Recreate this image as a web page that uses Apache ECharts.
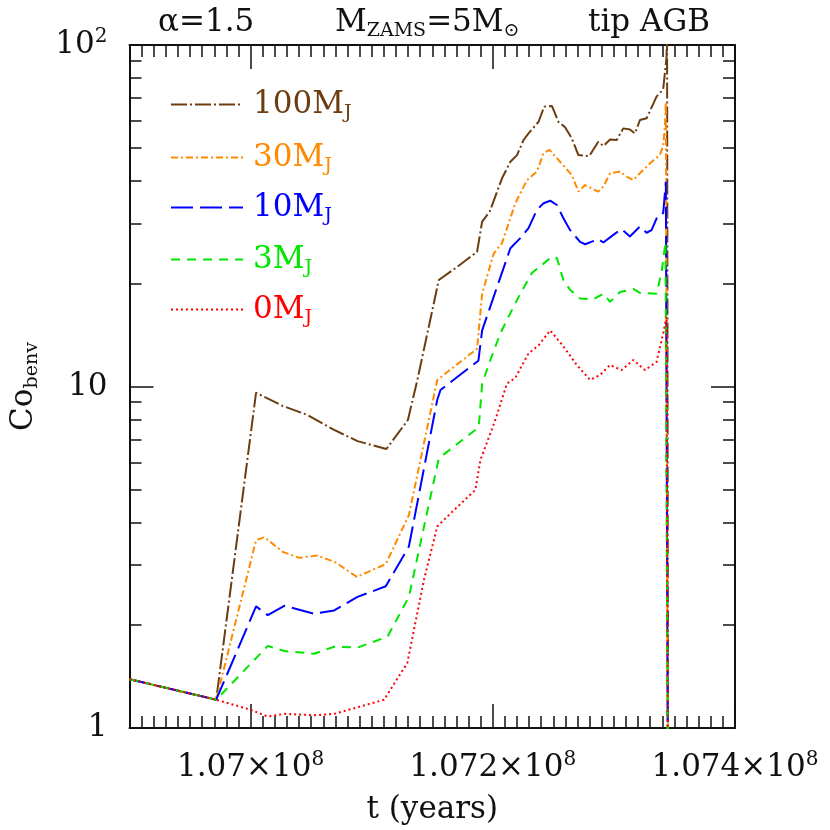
<!DOCTYPE html>
<html>
<head>
<meta charset="utf-8">
<script src="https://cdn.jsdelivr.net/npm/echarts@6/dist/echarts.min.js"></script>
<style>
  html, body { margin: 0; padding: 0; background: #fff; }
  #chart { width: 830px; height: 830px; }
</style>
</head>
<body>
<div id="chart"></div>
<script>
// time in kyr after t0, Co_benv values
const t0 = 106900000
const kyr = 1000

const names = ['100MJ', '30MJ', '10MJ', '3MJ', '0MJ']
const masses = ['100', '30', '10', '3', '0']
const colors = ['#6b3d10', '#ff8a00', '#0000ff', '#00e600', '#ff0000']
const dashes = [[16, 3, 2, 3], [7, 3, 2, 3], [22, 7], [9, 7], [2, 3]]

const tBrown = [0, 71.6, 104.5, 126.5, 147.1, 169.0, 188.3, 212.1, 229.9, 237.7, 255.4, 270.6, 287.0, 291.2, 297.4, 307.6, 314.5, 320.0, 325.4, 329.5, 337.8, 342.4, 348.8, 354.2, 359.7, 365.2, 370.7, 379.7, 387.1, 391.3, 396.8, 402.3, 407.7, 413.2, 417.4, 421.5, 427.0, 435.2, 440.7, 443.4, 443.9, 444.9]
const coBrown = [1.39, 1.21, 9.59, 8.77, 8.25, 7.46, 6.92, 6.56, 7.98, 10.45, 20.5, 22.4, 24.8, 30.4, 32.5, 40.7, 45.5, 47.6, 52.7, 55.1, 59.6, 66.0, 66.3, 59.6, 57.4, 53.3, 47.6, 47.3, 52.1, 50.6, 52.9, 52.7, 57.0, 56.6, 55.1, 60.3, 61.0, 70.6, 74.2, 91.4, 105, 0.3]

const tOrange = [0, 71.6, 104.5, 111.4, 126.5, 140.2, 155.3, 170.4, 187.7, 211.6, 230.7, 254.1, 287.0, 291.2, 300.7, 307.6, 318.6, 328.2, 336.4, 341.9, 346.8, 355.6, 365.2, 370.7, 376.2, 387.1, 391.3, 396.8, 405.0, 410.5, 416.0, 421.5, 429.7, 437.9, 440.7, 442.1, 442.9, 444.9]
const coOrange = [1.39, 1.21, 3.55, 3.62, 3.28, 3.15, 3.20, 3.05, 2.77, 3.02, 4.20, 10.45, 12.9, 18.7, 24.5, 26.3, 34.4, 40.2, 42.6, 48.2, 49.3, 45.5, 41.6, 37.2, 38.9, 37.2, 38.5, 42.1, 42.6, 41.2, 40.2, 42.1, 45.0, 47.6, 50.6, 57.7, 68.2, 0.3]

const tBlue = [0, 71.6, 104.5, 114.2, 127.8, 152.5, 169.0, 188.3, 211.6, 230.7, 254.1, 256.8, 288.1, 291.2, 300.7, 314.5, 322.7, 329.5, 336.4, 341.9, 347.4, 352.9, 358.3, 363.8, 372.1, 376.2, 387.1, 391.3, 399.5, 406.4, 413.2, 421.5, 427.0, 431.1, 436.5, 440.7, 442.9, 444.9]
const coBlue = [1.39, 1.21, 2.27, 2.14, 2.28, 2.16, 2.21, 2.42, 2.60, 3.40, 9.13, 9.77, 11.9, 14.6, 18.3, 25.4, 27.2, 29.1, 32.9, 34.4, 35.0, 34.0, 31.1, 28.7, 26.5, 26.1, 27.0, 26.4, 27.8, 28.9, 27.5, 29.4, 28.2, 28.7, 31.8, 32.2, 39.8, 0.3]

const tGreen = [0, 71.6, 114.2, 127.8, 152.5, 169.0, 188.3, 213.0, 230.7, 255.4, 288.4, 291.2, 298.0, 306.2, 314.5, 322.7, 332.3, 341.9, 348.8, 352.9, 358.3, 363.8, 372.1, 383.0, 391.3, 396.8, 405.0, 416.0, 421.5, 435.2, 439.3, 442.6, 444.9]
const coGreen = [1.39, 1.21, 1.74, 1.68, 1.65, 1.73, 1.72, 1.85, 2.42, 6.16, 7.6, 10.2, 11.96, 14.3, 16.4, 18.7, 21.5, 22.9, 24.0, 23.8, 20.5, 19.2, 18.1, 18.0, 18.7, 17.7, 18.9, 19.3, 18.8, 18.7, 21.5, 26.5, 0.3]

const tRed = [0, 71.6, 100.4, 114.2, 127.8, 152.5, 169.0, 188.3, 210.2, 229.4, 243.1, 254.1, 265.1, 285.6, 289.8, 302.1, 311.7, 318.6, 329.5, 337.8, 347.4, 358.3, 369.4, 380.3, 388.5, 396.8, 406.4, 416.0, 425.6, 435.2, 440.7, 443.4, 444.9]
const coRed = [1.39, 1.21, 1.13, 1.08, 1.10, 1.09, 1.10, 1.15, 1.21, 1.55, 2.71, 3.89, 4.25, 4.98, 6.1, 7.98, 10.2, 10.6, 12.5, 13.2, 14.6, 13.1, 11.56, 10.45, 10.8, 11.56, 11.17, 11.96, 11.17, 11.8, 14.3, 16.0, 0.3]

const tLists = [tBrown, tOrange, tBlue, tGreen, tRed]
const coLists = [coBrown, coOrange, coBlue, coGreen, coRed]

// axis ticks
const T_MIN = 106900000
const T_MAX = 107400000
const xMajor = [107000000, 107200000, 107400000]
const yMinor = [2, 3, 4, 5, 6, 7, 8, 9, 20, 30, 40, 50, 60, 70, 80, 90]
const yMajor = [10]

const FONT = 'DejaVu Serif'
const INK = '#111'

const chart = echarts.init(document.getElementById('chart'))

function xAxisDef (pos, major) {
  return {
    type: 'value',
    position: pos,
    min: T_MIN,
    max: T_MAX,
    interval: 10000,
    axisLine: { show: !major, onZero: false, lineStyle: { color: INK, width: 2 } },
    axisTick: major
      ? { show: true, inside: true, length: 24, customValues: xMajor, lineStyle: { color: INK, width: 1.5 } }
      : { show: true, inside: true, length: 12, lineStyle: { color: INK, width: 1.5 } },
    axisLabel: { show: false },
    splitLine: { show: false }
  }
}

function yAxisDef (pos, major) {
  return {
    type: 'log',
    logBase: 10,
    position: pos,
    min: 1,
    max: 100,
    axisLine: { show: !major, onZero: false, lineStyle: { color: INK, width: 2 } },
    axisTick: {
      show: true,
      inside: true,
      length: major ? 24 : 12,
      customValues: major ? yMajor : yMinor,
      lineStyle: { color: INK, width: 1.5 }
    },
    axisLabel: { show: false },
    splitLine: { show: false }
  }
}

// plain text and sub/superscript styles
const big = { fontFamily: FONT, fontSize: 31, fontWeight: 'normal', color: INK, lineHeight: 36 }
const sup = { fontFamily: FONT, fontSize: 20, fontWeight: 'normal', color: INK, lineHeight: 20, verticalAlign: 'top' }
const sub = { fontFamily: FONT, fontSize: 19, fontWeight: 'normal', color: INK, lineHeight: 19, verticalAlign: 'bottom' }

const xAxes = [xAxisDef('bottom', false), xAxisDef('bottom', true), xAxisDef('top', false), xAxisDef('top', true)]
// tick labels and name on the bottom axis
xAxes[0].axisLabel = {
  show: true,
  margin: 22,
  formatter: v => {
    if (Math.round(v) % 200000 !== 0) return ''
    const m = Number((v / 1e8).toFixed(3)).toString()
    return '{n|' + m + '×10}{p|8}'
  },
  rich: { n: big, p: sup }
}
xAxes[0].name = 't (years)'
xAxes[0].nameLocation = 'middle'
xAxes[0].nameGap = 66
xAxes[0].nameTextStyle = { fontFamily: FONT, fontSize: 31, fontWeight: 'normal', color: INK }

const yAxes = [yAxisDef('left', false), yAxisDef('left', true), yAxisDef('right', false), yAxisDef('right', true)]
yAxes[0].axisLabel = {
  show: true,
  margin: 22,
  formatter: v => (Math.abs(v - 100) < 1e-6 ? '{n|10}{p|2}' : '{n|' + v + '}'),
  rich: { n: big, p: sup }
}
yAxes[0].name = '{n|Co}{s|benv}'
yAxes[0].nameLocation = 'middle'
yAxes[0].nameGap = 88
yAxes[0].nameRotate = 90
yAxes[0].nameTextStyle = { rich: { n: big, s: sub } }

const legendRows = [102, 155, 205, 257, 307]
const legends = names.map((n, i) => ({
  data: [n],
  left: 165,
  top: legendRows[i] - 18,
  itemWidth: 72,
  itemHeight: 14,
  selectedMode: false,
  itemStyle: { opacity: 0 },
  formatter: () => '{m|' + masses[i] + 'M}{j|J}',
  textStyle: {
    padding: [0, 0, 0, 5],
    rich: {
      m: Object.assign({}, big, { color: colors[i] }),
      j: Object.assign({}, sub, { color: colors[i] })
    }
  }
}))

const titles = [
  { text: '{n|α=1.5}', left: 153, top: 0 },
  { text: '{n|M}{s|ZAMS}{n|=5M}{s|⊙}', left: 330, top: 0 },
  { text: '{n|tip AGB}', left: 583, top: 0 }
].map(t => Object.assign(t, { textStyle: { fontWeight: 'normal', rich: { n: big, s: sub } } }))

const option = {
  backgroundColor: '#fff',
  animation: false,
  title: titles,
  legend: legends,
  grid: { left: 128, right: 95, top: 45, bottom: 102, containLabel: false },
  xAxis: xAxes,
  yAxis: yAxes,
  series: names.map((n, i) => ({
    name: n,
    type: 'line',
    xAxisIndex: 0,
    yAxisIndex: 0,
    symbol: 'none',
    clip: true,
    color: colors[i],
    lineStyle: { color: colors[i], width: 2, type: dashes[i], cap: 'butt' },
    data: tLists[i].map((k, j) => [t0 + k * kyr, coLists[i][j]])
  }))
}

chart.setOption(option)
</script>
</body>
</html>
